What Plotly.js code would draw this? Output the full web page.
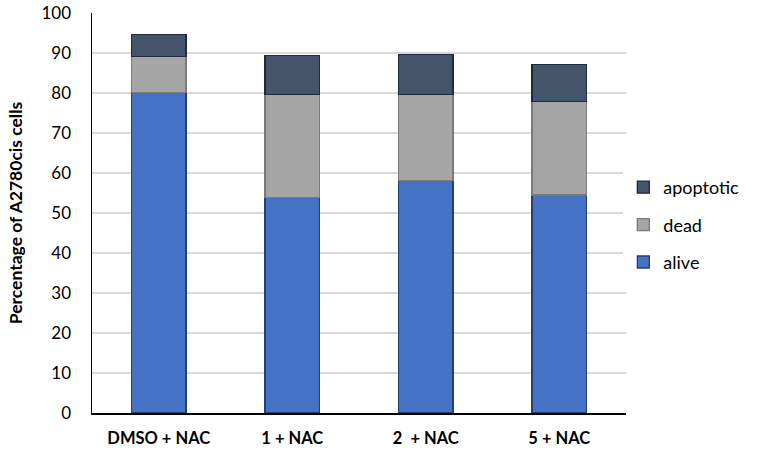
<!DOCTYPE html>
<html>
<head>
<meta charset="utf-8">
<script src="https://cdn.plot.ly/plotly-3.0.1.min.js"></script>
<style>html,body{margin:0;padding:0;background:#fff}#chart{width:759px;height:453px}</style>
</head>
<body>
<div id="chart"></div>
<script>
const categories = ["DMSO + NAC", "1 + NAC", "2  + NAC", "5 + NAC"];
const alive = [80.1, 53.9, 58.2, 54.5];
const dead = [9.1, 25.8, 21.5, 23.3];
const apoptotic = [5.5, 9.6, 10.0, 9.4];
const yTickVals = [0, 10, 20, 30, 40, 50, 60, 70, 80, 90, 100];

const font = "Lato, 'Open Sans', sans-serif";
function tr(name, vals, fill, edge, grp, rank) {
  return {type: "bar", name: name, x: categories, y: vals, legendgroup: grp, legendrank: rank,
    marker: {color: fill, line: {color: edge, width: 1.3}}, hoverinfo: "y"};
}
const data = [
  tr("alive", alive, "#4472C4", "#24406E", "g1", 3),
  tr("dead", dead, "#A5A5A5", "#7A7A7A", "g2", 2),
  tr("apoptotic", apoptotic, "#44546A", "#1F2B3A", "g3", 1)
];
const layout = {
  width: 759, height: 453,
  margin: {l: 92, r: 133, t: 13, b: 40},
  paper_bgcolor: "#fff", plot_bgcolor: "#fff",
  barmode: "stack", bargap: 0.59,
  font: {family: font, size: 17, color: "#000"},
  xaxis: {type: "category", showgrid: false, showline: true, linecolor: "#000", linewidth: 1.5,
    ticks: "", ticklabelstandoff: 10, tickfont: {family: font, size: 16.5, color: "#000", weight: "bold"}},
  yaxis: {range: [0, 100], tickvals: yTickVals, showgrid: true, gridcolor: "#D9D9D9", gridwidth: 1.3,
    showline: true, linecolor: "#000", linewidth: 1.5, zeroline: false, ticks: "",
    ticklabelstandoff: 16, tickfont: {family: font, size: 17, color: "#000"},
    title: {text: "Percentage of A2780cis cells", standoff: 14,
      font: {family: font, size: 17.5, color: "#000", weight: "bold"}}},
  legend: {x: 0.995, y: 0.47, xanchor: "left", yanchor: "middle", traceorder: "grouped",
    tracegroupgap: 11, font: {family: font, size: 18, color: "#000"}, itemwidth: 30},
  showlegend: true
};
Plotly.newPlot("chart", data, layout, {displayModeBar: false, staticPlot: true});
</script>
</body>
</html>
